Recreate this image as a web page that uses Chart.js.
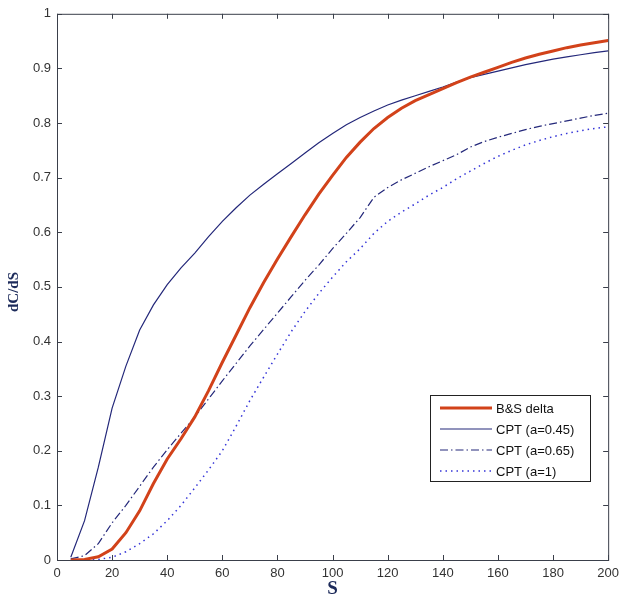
<!DOCTYPE html>
<html lang="en">

<head>
    <meta charset="UTF-8">
    <title>dC/dS vs S</title>
    <script src="https://cdn.jsdelivr.net/npm/chart.js"></script>
    <style>
        html, body { margin: 0; padding: 0; background: #fff; }
        #wrap { width: 625px; height: 601px; position: relative; }
    </style>
</head>

<body>
    <div id="wrap"><canvas id="deltaChart"></canvas></div>

    <script>
        // stock price grid
        const sValues = [5, 10, 15, 20, 25, 30, 35, 40, 45, 50, 55, 60, 65, 70, 75, 80, 85, 90, 95, 100,
            105, 110, 115, 120, 125, 130, 135, 140, 145, 150, 155, 160, 165, 170, 175, 180, 185, 190, 195, 200];

        const bsDelta = [0.000, 0.001, 0.006, 0.020, 0.050, 0.090, 0.140, 0.185, 0.222, 0.262, 0.310, 0.362, 0.412, 0.462, 0.508, 0.551,
            0.592, 0.632, 0.670, 0.704, 0.737, 0.765, 0.790, 0.810, 0.827, 0.841, 0.852, 0.863, 0.874, 0.884,
            0.893, 0.902, 0.911, 0.919, 0.926, 0.932, 0.938, 0.943, 0.947, 0.951];

        const cpt045 = [0.005, 0.072, 0.170, 0.278, 0.355, 0.421, 0.467, 0.504, 0.535, 0.562, 0.592, 0.620, 0.645, 0.668, 0.688, 0.707,
            0.726, 0.745, 0.764, 0.781, 0.797, 0.810, 0.822, 0.833, 0.842, 0.850, 0.858, 0.866, 0.875, 0.883,
            0.889, 0.895, 0.901, 0.907, 0.912, 0.917, 0.921, 0.925, 0.929, 0.932];

        const cpt065 = [0.002, 0.008, 0.030, 0.068, 0.100, 0.135, 0.170, 0.202, 0.232, 0.262, 0.295, 0.328, 0.360, 0.392, 0.422, 0.452,
            0.482, 0.512, 0.540, 0.570, 0.598, 0.627, 0.664, 0.682, 0.696, 0.708, 0.720, 0.731, 0.742, 0.756,
            0.766, 0.774, 0.781, 0.788, 0.794, 0.799, 0.804, 0.809, 0.814, 0.818];

        const cpt1 = [0.000, 0.000, 0.001, 0.005, 0.015, 0.030, 0.048, 0.072, 0.100, 0.132, 0.165, 0.200, 0.245, 0.292, 0.335, 0.377,
            0.418, 0.455, 0.488, 0.518, 0.546, 0.570, 0.598, 0.620, 0.637, 0.652, 0.668, 0.682, 0.698, 0.712,
            0.726, 0.739, 0.750, 0.760, 0.768, 0.775, 0.781, 0.786, 0.790, 0.793];

        const xTicks = [0, 20, 40, 60, 80, 100, 120, 140, 160, 180, 200];
        const yTicks = [0, 0.1, 0.2, 0.3, 0.4, 0.5, 0.6, 0.7, 0.8, 0.9, 1];

        const seriesNames = ["B&S delta", "CPT (a=0.45)", "CPT (a=0.65)", "CPT (a=1)"];

        function pts(vals) {
            return sValues.map((s, i) => ({ x: s, y: vals[i] }));
        }

        const axisColor = "#3a3f4a";

        // frame + inward ticks on all four sides (matlab look)
        const boxPlugin = {
            id: "box",
            afterDraw(chart) {
                const ctx = chart.ctx;
                const a = chart.chartArea;
                const xs = chart.scales.x, ys = chart.scales.y;
                ctx.save();
                ctx.strokeStyle = axisColor;
                ctx.lineWidth = 1;
                ctx.strokeRect(a.left + 0.5, a.top + 0.5, a.right - a.left, a.bottom - a.top);
                ctx.beginPath();
                xTicks.forEach(v => {
                    const px = Math.round(xs.getPixelForValue(v)) + 0.5;
                    ctx.moveTo(px, a.bottom); ctx.lineTo(px, a.bottom - 5);
                    ctx.moveTo(px, a.top); ctx.lineTo(px, a.top + 5);
                });
                yTicks.forEach(v => {
                    const py = Math.round(ys.getPixelForValue(v)) + 0.5;
                    ctx.moveTo(a.left, py); ctx.lineTo(a.left + 5, py);
                    ctx.moveTo(a.right, py); ctx.lineTo(a.right - 5, py);
                });
                ctx.stroke();

                // axis titles
                ctx.fillStyle = "#1c2a5a";
                ctx.font = "bold 19px 'Liberation Serif', 'Times New Roman', serif";
                ctx.textAlign = "center";
                ctx.textBaseline = "middle";
                ctx.fillText("S", (a.left + a.right) / 2, 589);
                ctx.save();
                ctx.translate(14, 292);
                ctx.rotate(-Math.PI / 2);
                ctx.font = "bold 15px 'Liberation Serif', 'Times New Roman', serif";
                ctx.fillText("dC/dS", 0, 0);
                ctx.restore();

                // legend box
                const lx = 430, ly = 395, lw = 160, lh = 86;
                ctx.fillStyle = "#fff";
                ctx.fillRect(lx, ly, lw, lh);
                ctx.strokeStyle = "#222";
                ctx.lineWidth = 1;
                ctx.strokeRect(lx + 0.5, ly + 0.5, lw, lh);
                ctx.font = "13px 'Liberation Sans', Arial, sans-serif";
                ctx.textAlign = "left";
                chart.data.datasets.forEach((ds, i) => {
                    const y = ly + 13 + i * 21;
                    ctx.save();
                    ctx.strokeStyle = ds.borderColor;
                    ctx.lineWidth = ds.borderWidth;
                    ctx.setLineDash(ds.borderDash || []);
                    ctx.beginPath();
                    ctx.moveTo(lx + 10, y);
                    ctx.lineTo(lx + 62, y);
                    ctx.stroke();
                    ctx.restore();
                    ctx.fillStyle = "#111";
                    ctx.fillText(ds.label, lx + 66, y + 1);
                });
                ctx.restore();
            }
        };

        new Chart(document.getElementById("deltaChart"), {
            type: "line",
            data: {
                datasets: [
                    { label: seriesNames[0], data: pts(bsDelta), borderColor: "#d2421a", borderWidth: 3, order: 0 },
                    { label: seriesNames[1], data: pts(cpt045), borderColor: "#24287a", borderWidth: 1.2, order: 1 },
                    { label: seriesNames[2], data: pts(cpt065), borderColor: "#24287a", borderWidth: 1.2, borderDash: [8, 3, 1.5, 3], order: 2 },
                    { label: seriesNames[3], data: pts(cpt1), borderColor: "#3434d8", borderWidth: 1.5, borderDash: [1.5, 4], order: 3 }
                ]
            },
            options: {
                responsive: true,
                maintainAspectRatio: false,
                animation: false,
                layout: { padding: { top: 10, right: 11, left: 0, bottom: 0 } },
                elements: { point: { radius: 0 }, line: { tension: 0, fill: false } },
                plugins: {
                    legend: { display: false },
                    tooltip: { enabled: false }
                },
                scales: {
                    x: {
                        type: "linear",
                        min: 0, max: 200,
                        afterBuildTicks: s => { s.ticks = xTicks.map(v => ({ value: v })); },
                        afterFit: s => { s.height = 41; },
                        grid: { display: false, drawTicks: false },
                        border: { display: false },
                        ticks: { padding: 6, color: "#333", font: { family: "'Liberation Sans', Arial, sans-serif", size: 13 }, maxRotation: 0 }
                    },
                    y: {
                        min: 0, max: 1,
                        afterBuildTicks: s => { s.ticks = yTicks.map(v => ({ value: v })); },
                        afterFit: s => { s.width = 57; },
                        grid: { display: false, drawTicks: false },
                        border: { display: false },
                        ticks: { padding: 6, color: "#333", font: { family: "'Liberation Sans', Arial, sans-serif", size: 13 }, callback: v => String(Math.round(v * 10) / 10) }
                    }
                }
            },
            plugins: [boxPlugin]
        });
    </script>

</body>

</html>
